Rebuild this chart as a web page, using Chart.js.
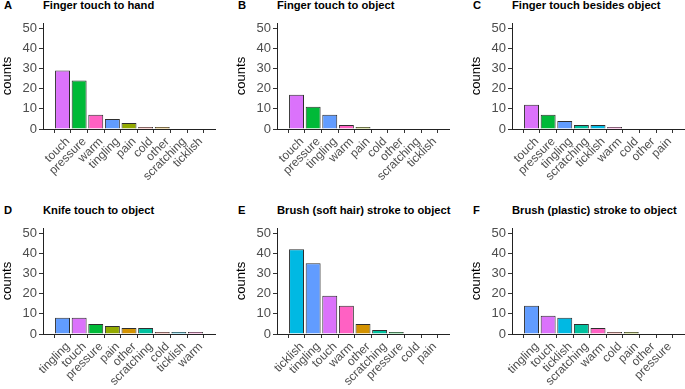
<!DOCTYPE html>
<html>
<head>
<meta charset="utf-8">
<script src="https://cdn.jsdelivr.net/npm/chart.js@4"></script>
<style>
html, body { margin: 0; padding: 0; background: #fff; overflow: hidden; }
#fig { position: relative; width: 685px; height: 389px; overflow: hidden; font-family: "Liberation Sans", Arial, sans-serif; }
canvas { position: absolute; }
.lab { position: absolute; font-weight: bold; font-size: 11.2px; line-height: 13px; color: #000; white-space: nowrap; }
</style>
</head>
<body>
<div id="fig"></div>
<script>
//panel data, categories sorted by count as in the figure
const catsA = ['touch', 'pressure', 'warm', 'tingling', 'pain', 'cold', 'other', 'scratching', 'ticklish'];
const valsA = [29, 24, 7, 5, 3, 1, 1, 0, 0];
const catsB = ['touch', 'pressure', 'tingling', 'warm', 'pain', 'cold', 'other', 'scratching', 'ticklish'];
const valsB = [17, 11, 7, 2, 1, 0, 0, 0, 0];
const catsC = ['touch', 'pressure', 'tingling', 'scratching', 'ticklish', 'warm', 'cold', 'other', 'pain'];
const valsC = [12, 7, 4, 2, 2, 1, 0, 0, 0];
const catsD = ['tingling', 'touch', 'pressure', 'pain', 'other', 'scratching', 'cold', 'ticklish', 'warm'];
const valsD = [8, 8, 5, 4, 3, 3, 1, 1, 1];
const catsE = ['ticklish', 'tingling', 'touch', 'warm', 'other', 'scratching', 'pressure', 'cold', 'pain'];
const valsE = [42, 35, 19, 14, 5, 2, 1, 0, 0];
const catsF = ['tingling', 'touch', 'ticklish', 'scratching', 'warm', 'cold', 'pain', 'other', 'pressure'];
const valsF = [14, 9, 8, 5, 3, 1, 1, 0, 0];
const yTicks = [0, 10, 20, 30, 40, 50];

//default ggplot hue colours, one per sensation
const colours = {
    cold: '#F8766D', other: '#D39200', pain: '#93AA00', pressure: '#00BA38',
    scratching: '#00C19F', ticklish: '#00B9E3', tingling: '#619CFF',
    touch: '#DB72FB', warm: '#FF61C3'
};

const fig = document.getElementById('fig');
const FONT = '"Liberation Sans", Arial, sans-serif';

//adds a bold text label at a given spot
function addLabel(text, left, top) {
    const d = document.createElement('div');
    d.className = 'lab';
    d.textContent = text;
    d.style.left = left + 'px';
    d.style.top = top + 'px';
    fig.appendChild(d);
}

//x labels at 45 degrees, top-right corner pinned under the tick (like ggplot hjust=1)
function slantLabels(cats) {
    return {
        id: 'slantLabels',
        afterDraw(chart) {
            const ctx = chart.ctx;
            const xs = chart.scales.x;
            ctx.save();
            ctx.font = '12px ' + FONT;
            ctx.fillStyle = '#4D4D4D';
            ctx.textAlign = 'right';
            ctx.textBaseline = 'top';
            cats.forEach((c, i) => {
                ctx.save();
                ctx.translate(xs.getPixelForValue(i) + 1, chart.chartArea.bottom + 6.5);
                ctx.rotate(-Math.PI / 4);
                ctx.fillText(c, 0, 0);
                ctx.restore();
            });
            ctx.restore();
        }
    };
}

//builds one panel: plotLeft is the x of the y axis, rowTop the top of the row
function makePanel(letter, title, cats, vals, plotLeft, rowTop) {
    addLabel(letter, plotLeft - 39, rowTop - 1);
    addLabel(title, plotLeft, rowTop - 1);

    const canvas = document.createElement('canvas');
    canvas.width = 225;
    canvas.height = 185;
    canvas.style.left = (plotLeft - 43) + 'px';
    canvas.style.top = rowTop + 'px';
    canvas.style.width = '225px';
    canvas.style.height = '185px';
    fig.appendChild(canvas);

    new Chart(canvas.getContext('2d'), {
        type: 'bar',
        data: {
            datasets: [{
                data: cats.map((c, i) => ({ x: i, y: vals[i] })),
                backgroundColor: cats.map(c => colours[c]),
                borderColor: '#2e2e2e',
                borderWidth: 1,
                borderSkipped: 'bottom',
                barPercentage: 0.9,
                categoryPercentage: 1
            }]
        },
        plugins: [slantLabels(cats)],
        options: {
            responsive: false,
            animation: false,
            events: [],
            layout: { padding: { top: 23, right: 10, left: 0, bottom: 0 } },
            plugins: { legend: { display: false }, tooltip: { enabled: false } },
            scales: {
                x: {
                    type: 'linear',
                    min: -0.6,
                    max: 8.6,
                    afterBuildTicks: s => { s.ticks = cats.map((c, i) => ({ value: i })); },
                    afterFit: s => { s.height = 56; },
                    grid: { display: true, drawOnChartArea: false, drawTicks: true, tickLength: 4, color: '#333', lineWidth: 1 },
                    border: { display: true, color: '#222', width: 1 },
                    ticks: { display: false }
                },
                y: {
                    min: 0,
                    max: 52.5,
                    afterBuildTicks: s => { s.ticks = yTicks.map(v => ({ value: v })); },
                    afterFit: s => { s.width = 43; },
                    grid: { display: true, drawOnChartArea: false, drawTicks: true, tickLength: 4, color: '#333', lineWidth: 1 },
                    border: { display: true, color: '#222', width: 1 },
                    ticks: { padding: 2, color: '#4D4D4D', font: { family: FONT, size: 13 } },
                    title: {
                        display: true,
                        text: 'counts',
                        color: '#000',
                        padding: { top: 0, bottom: 0 },
                        font: { family: FONT, size: 13 }
                    }
                }
            }
        }
    });
}

makePanel('A', 'Finger touch to hand', catsA, valsA, 43, 0);
makePanel('B', 'Finger touch to object', catsB, valsB, 277, 0);
makePanel('C', 'Finger touch besides object', catsC, valsC, 512, 0);
makePanel('D', 'Knife touch to object', catsD, valsD, 43, 205);
makePanel('E', 'Brush (soft hair) stroke to object', catsE, valsE, 277, 205);
makePanel('F', 'Brush (plastic) stroke to object', catsF, valsF, 512, 205);
</script>
</body>
</html>
